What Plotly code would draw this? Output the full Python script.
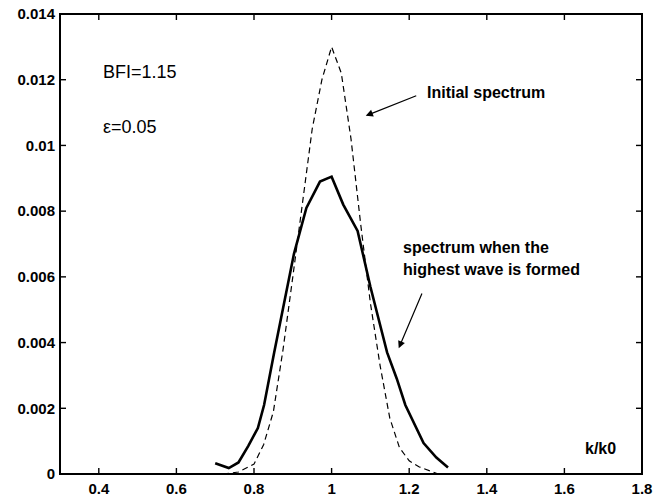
import plotly.graph_objects as go

# Initial spectrum (dashed)
k_init = [0.72, 0.76, 0.80, 0.825, 0.85, 0.875, 0.90, 0.925, 0.95, 0.975, 1.0,
          1.025, 1.05, 1.075, 1.10, 1.125, 1.15, 1.175, 1.20, 1.225, 1.25, 1.275]
s_init = [0.0, 0.00006, 0.0003, 0.0009, 0.0019, 0.0038, 0.0060, 0.0083, 0.0105, 0.0120, 0.0130,
          0.0122, 0.0102, 0.0076, 0.0052, 0.0033, 0.0017, 0.0008, 0.0004, 0.00022, 0.0001, 0.0]

# Spectrum when the highest wave is formed (solid)
k_high = [0.70, 0.735, 0.76, 0.785, 0.81, 0.826, 0.852, 0.877, 0.903, 0.935, 0.97, 1.0,
          1.03, 1.067, 1.1, 1.143, 1.168, 1.19, 1.237, 1.27, 1.30]
s_high = [0.00033, 0.00018, 0.00035, 0.00085, 0.0014, 0.0021, 0.0037, 0.0052, 0.0067, 0.0081, 0.0089, 0.00905,
          0.0082, 0.0074, 0.0057, 0.0037, 0.0029, 0.0021, 0.00094, 0.0005, 0.0002]

x_ticks = [0.4, 0.6, 0.8, 1.0, 1.2, 1.4, 1.6, 1.8]
x_tick_labels = ["0.4", "0.6", "0.8", "1", "1.2", "1.4", "1.6", "1.8"]
y_ticks = [0, 0.002, 0.004, 0.006, 0.008, 0.010, 0.012, 0.014]
y_tick_labels = ["0", "0.002", "0.004", "0.006", "0.008", "0.01", "0.012", "0.014"]

X_RANGE = [0.3, 1.8]
Y_RANGE = [0, 0.014]
W, H = 663, 501
M = dict(l=60, r=21, t=14, b=27)
TICK_PX = 6

fig = go.Figure()
fig.add_trace(go.Scatter(x=k_init, y=s_init, mode="lines",
                         line=dict(color="black", width=1.2, dash="6px,4px"),
                         showlegend=False, cliponaxis=False, hoverinfo="skip"))
fig.add_trace(go.Scatter(x=k_high, y=s_high, mode="lines",
                         line=dict(color="black", width=2.6),
                         showlegend=False, cliponaxis=False, hoverinfo="skip"))

# Inside tick marks on all four sides (drawn as line segments at the tick values)
plot_w = W - M["l"] - M["r"]
plot_h = H - M["t"] - M["b"]
dx = TICK_PX / plot_w * (X_RANGE[1] - X_RANGE[0])
dy = TICK_PX / plot_h * (Y_RANGE[1] - Y_RANGE[0])
tx, ty = [], []
for xv in x_ticks:
    tx += [xv, xv, None, xv, xv, None]
    ty += [Y_RANGE[0], Y_RANGE[0] + dy, None, Y_RANGE[1], Y_RANGE[1] - dy, None]
for yv in y_ticks:
    tx += [X_RANGE[0], X_RANGE[0] + dx, None, X_RANGE[1], X_RANGE[1] - dx, None]
    ty += [yv, yv, None, yv, yv, None]
fig.add_trace(go.Scatter(x=tx, y=ty, mode="lines", line=dict(color="black", width=1.4),
                         showlegend=False, cliponaxis=False, hoverinfo="skip"))

tickfont = dict(family="Liberation Sans", size=15, color="black", weight="bold")
axis_common = dict(ticks="", showline=False, showgrid=False, zeroline=False,
                   tickfont=tickfont, automargin=False, ticklabelstandoff=4)
fig.update_xaxes(range=X_RANGE, tickvals=x_ticks, ticktext=x_tick_labels, **axis_common)
fig.update_yaxes(range=Y_RANGE, tickvals=y_ticks, ticktext=y_tick_labels, **axis_common)

shapes = [dict(type="rect", xref="paper", yref="paper", x0=0, y0=0, x1=1, y1=1,
               line=dict(color="black", width=2), layer="above")]

bold = dict(family="Liberation Sans", size=16, color="black", weight="bold")
reg = dict(family="Liberation Sans", size=18, color="black")

annotations = [
    dict(x=0.405, y=0.01223, text="BFI=1.15", showarrow=False, xanchor="left", yanchor="middle", font=reg),
    dict(x=0.405, y=0.01056, text="ε=0.05", showarrow=False, xanchor="left", yanchor="middle", font=reg),
    dict(x=1.240, y=0.0116, text="Initial spectrum", showarrow=False, xanchor="left", yanchor="middle", font=bold),
    dict(x=1.180, y=0.00688, text="spectrum when the", showarrow=False, xanchor="left", yanchor="middle", font=bold),
    dict(x=1.180, y=0.00621, text="highest wave is formed", showarrow=False, xanchor="left", yanchor="middle", font=bold),
    dict(x=1.693, y=0.00079, text="k/k0", showarrow=False, xanchor="center", yanchor="middle", font=bold),
    dict(x=1.088, y=0.0109, ax=1.222, ay=0.01153, axref="x", ayref="y", text="", showarrow=True,
         arrowhead=2, arrowsize=1.2, arrowwidth=1.2, arrowcolor="black"),
    dict(x=1.173, y=0.00383, ax=1.2345, ay=0.00554, axref="x", ayref="y", text="", showarrow=True,
         arrowhead=2, arrowsize=1.2, arrowwidth=1.2, arrowcolor="black"),
]

fig.update_layout(width=W, height=H, margin=M,
                  paper_bgcolor="white", plot_bgcolor="white",
                  annotations=annotations, shapes=shapes, showlegend=False,
                  hovermode=False)

fig.write_html("out.html", config={"displayModeBar": False},
               post_script="document.body.style.margin='0px';")
